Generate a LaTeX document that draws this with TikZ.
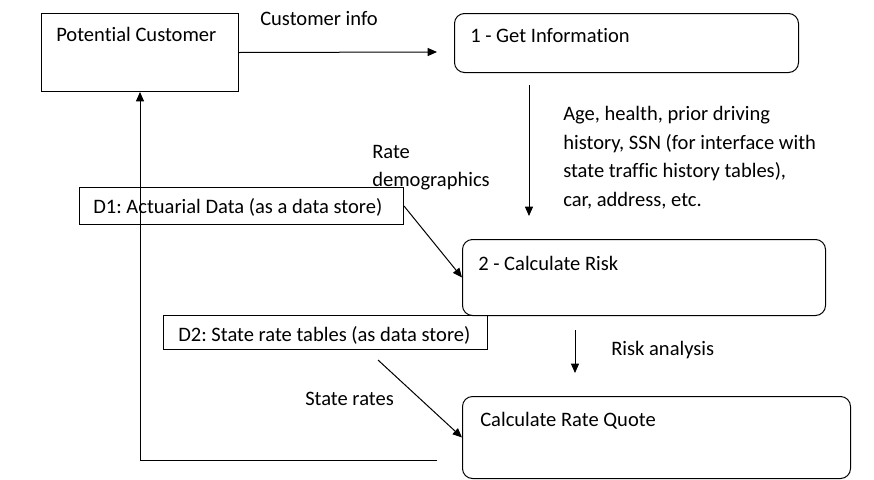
\documentclass[tikz,border=0pt]{standalone}
\usepackage{fontspec}
\setmainfont{Carlito}[Ligatures=NoCommon]
\usetikzlibrary{arrows.meta}
\frenchspacing

\tikzset{
  box/.style={draw, line width=0.75pt, inner sep=0pt, anchor=north west},
  proc/.style={box, rounded corners=7.5pt},
  txt/.style={anchor=base west, inner sep=0pt, font=\fontsize{15.4}{21.5}\selectfont},
  flow/.style={line width=0.75pt, -{Triangle[length=7pt,width=6pt]}}
}

\begin{document}
\begin{tikzpicture}[x=0.75pt, y=-0.75pt]
	\useasboundingbox (0,0) rectangle (874,479);

	% boxes
	\node[box, minimum width=197*0.75pt, minimum height=78*0.75pt] (pc) at (41,13) {};
	\node[proc, minimum width=344*0.75pt, minimum height=59*0.75pt] (info) at (454,13) {};
	\node[box, minimum width=324*0.75pt, minimum height=37*0.75pt] (actuarial) at (79,187) {};
	\node[proc, minimum width=363*0.75pt, minimum height=76*0.75pt] (risk) at (462,239) {};
	\node[box, minimum width=324*0.75pt, minimum height=34*0.75pt] (staterate) at (163,315) {};
	\node[proc, minimum width=388*0.75pt, minimum height=82*0.75pt] (quote) at (462,396) {};

	% box texts
	\node[txt] (pctxt) at (56,41) {Potential Customer};
	\node[txt] (infotxt) at (470,42) {1 - Get Information};
	\node[txt] (actuarialtxt) at (93,213) {D1: Actuarial Data (as a data store)};
	\node[txt] (risktxt) at (478,270) {2 - Calculate Risk};
	\node[txt] (stateratetxt) at (178,341) {D2: State rate tables (as data store)};
	\node[txt] (quotetxt) at (480,426) {Calculate Rate Quote};

	% flow labels
	\node[txt] (custinfo) at (260,25) {Customer info};
	\node[txt, anchor=north west, text depth=0pt] (details) at (563,100)
		{\begin{tabular}{@{}l@{}}Age, health, prior driving\\history, SSN (for interface with\\state traffic history tables),\\car, address, etc.\end{tabular}};
	\node[txt] (ratedemo) at (372,158) {Rate};
	\node[txt] (ratedemo2) at (372,186) {demographics};
	\node[txt] (riskan) at (611,355) {Risk analysis};
	\node[txt] (staterates) at (305,405) {State rates};

	% free ends
	\coordinate (infoend) at (437,52);
	\coordinate (infodown) at (529,85);
	\coordinate (infodownend) at (529,216);
	\coordinate (riskdown) at (575,330);
	\coordinate (riskdownend) at (575,373);
	\coordinate (ratestart) at (378,360);
	\coordinate (back) at (437,460);

	% connectors
	\draw[flow] (pc.east) -- (infoend);
	\draw[flow] (infodown) -- (infodownend);
	\draw[flow] (actuarial.east) -- (risk.west);
	\draw[flow] (riskdown) -- (riskdownend);
	\draw[flow] (ratestart) -- (quote.west);
	\draw[flow] (back) -| (pc.south);
\end{tikzpicture}
\end{document}
